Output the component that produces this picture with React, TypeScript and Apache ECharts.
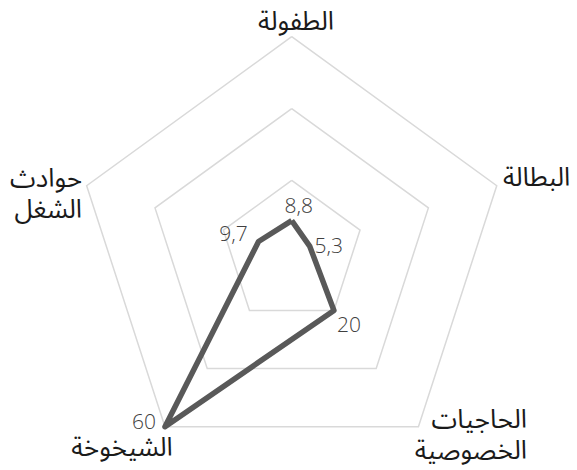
import React, { useEffect, useRef } from "react";
import * as echarts from "echarts";

// Indicators in ECharts order (counter-clockwise from top)
const indicatorNames = ["الطفولة", "حوادث\nالشغل", "الشيخوخة", "الحاجيات\nالخصوصية", "البطالة"];
const values = [8.8, 9.7, 60, 20, 5.3];
const axisMax = 60;
const splitCount = 3;

// layout (not data)
const labelOffsets: [number, number][] = [
  [7, -16],
  [-25, -9],
  [-21, -6],
  [15, 14],
  [19, -1],
];
const namePlacement = [
  { x: 296, y: 21, align: "center" },
  { x: 82, y: 194, align: "right" },
  { x: 122, y: 447, align: "center" },
  { x: 527, y: 435, align: "right" },
  { x: 503, y: 177, align: "left" },
];

const fmt = (v: number) => String(v).replace(".", ",");

export default function App() {
  const ref = useRef<HTMLDivElement>(null);
  useEffect(() => {
    if (!ref.current) return;
    const chart = echarts.init(ref.current, undefined, { renderer: "svg" });
    const labelSeries = values.map((target, k) => ({
      type: "radar",
      z: 3,
      symbol: "circle",
      symbolSize: 1,
      itemStyle: { color: "transparent" },
      lineStyle: { width: 0, opacity: 0 },
      label: {
        show: true,
        position: "inside",
        align: "center",
        verticalAlign: "middle",
        offset: labelOffsets[k],
        color: "#404040",
        fontFamily: "Open Sans",
        fontWeight: 300,
        fontSize: 21,
        lineHeight: 21,
        formatter: (p: any) => {
          const v = Array.isArray(p.value) ? p.value[k] : p.value;
          return v === target ? fmt(target) : "";
        },
      },
      data: [{ value: values }],
    }));
    chart.setOption({
      animation: false,
      radar: {
        center: [291.7, 252.3],
        radius: 215.6,
        startAngle: 90,
        shape: "polygon",
        splitNumber: splitCount,
        indicator: indicatorNames.map((n) => ({ name: n, min: 0, max: axisMax })),
        axisName: { show: false },
        axisLine: { show: false },
        axisTick: { show: false },
        axisLabel: { show: false },
        splitArea: { show: false },
        splitLine: { lineStyle: { color: "#d9d9d9", width: 1.5 } },
      },
      graphic: indicatorNames.map((n, i) => ({
        type: "text",
        silent: true,
        style: {
          text: n,
          x: namePlacement[i].x,
          y: namePlacement[i].y,
          textAlign: namePlacement[i].align,
          textVerticalAlign: "middle",
          align: namePlacement[i].align,
          verticalAlign: "middle",
          fontFamily: "'Noto Sans Arabic', 'Noto Kufi Arabic', 'Noto Naskh Arabic', 'DejaVu Sans'",
          fontSize: 26,
          fontWeight: "normal",
          lineHeight: n.includes("\n") ? 31 : 26,
          fill: "#1a1a1a",
        },
      })),
      series: [
        {
          type: "radar",
          z: 2,
          symbol: "none",
          lineStyle: { color: "#595959", width: 5.5 },
          itemStyle: { color: "#595959" },
          data: [{ value: values }],
        },
        ...labelSeries,
      ],
    });
    return () => chart.dispose();
  }, []);
  return (
    <div
      ref={ref}
      style={{ position: "absolute", left: 0, top: 0, width: 577, height: 470 }}
    />
  );
}
